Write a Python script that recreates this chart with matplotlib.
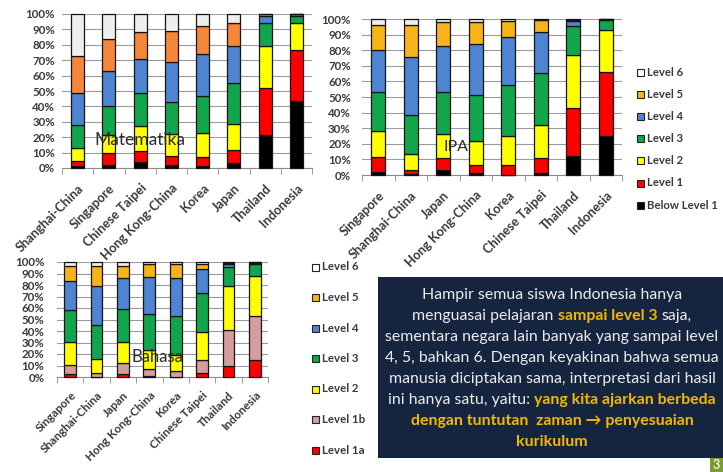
import matplotlib
matplotlib.use("Agg")
import matplotlib.pyplot as plt
from matplotlib.patches import Rectangle
import numpy as np

# ---------------------------------------------------------------- data
math_countries = ["Shanghai-China", "Singapore", "Chinese Taipei", "Hong Kong-China",
                  "Korea", "Japan", "Thailand", "Indonesia"]
math_below1 = [1.4, 2.0, 4.2, 2.0, 1.0, 3.0, 21.5, 43.3]
math_l1 = [3.0, 7.5, 7.0, 5.5, 6.0, 8.5, 30.5, 33.4]
math_l2 = [8.5, 12.0, 16.3, 14.5, 15.5, 17.0, 27.5, 17.3]
math_l3 = [15.0, 19.0, 21.0, 21.0, 24.5, 26.5, 14.5, 4.8]
math_l4 = [20.5, 22.8, 22.5, 26.0, 27.0, 24.0, 4.5, 1.0]
math_l5 = [24.5, 20.7, 17.5, 20.0, 18.0, 15.0, 1.2, 0.2]
math_l6 = [27.1, 16.0, 11.5, 11.0, 8.0, 6.0, 0.3, 0.0]

sci_countries = ["Singapore", "Shanghai-China", "Japan", "Hong Kong-China",
                 "Korea", "Chinese Taipei", "Thailand", "Indonesia"]
sci_below1 = [2.1, 0.4, 3.4, 1.2, 0.0, 1.6, 12.2, 25.0]
sci_l1 = [9.2, 2.6, 7.3, 5.0, 6.2, 9.4, 30.6, 41.0]
sci_l2 = [17.2, 10.5, 15.8, 15.8, 18.8, 21.0, 34.2, 27.0]
sci_l3 = [25.0, 25.0, 26.5, 29.0, 32.8, 33.3, 18.3, 6.5]
sci_l4 = [26.5, 37.1, 30.0, 33.0, 30.6, 26.2, 3.5, 0.5]
sci_l5 = [16.0, 20.4, 15.0, 14.0, 10.6, 7.7, 0.8, 0.0]
sci_l6 = [4.0, 4.0, 2.0, 2.0, 1.0, 0.8, 0.4, 0.0]

read_countries = ["Singapore", "Shanghai-China", "Japan", "Hong Kong-China",
                  "Korea", "Chinese Taipei", "Thailand", "Indonesia"]
read_l1a = [2.6, 0.3, 2.5, 0.8, 0.4, 3.5, 9.9, 15.1]
read_l1b = [8.1, 3.5, 9.7, 6.4, 4.5, 11.0, 31.3, 37.7]
read_l2 = [19.4, 11.9, 17.9, 16.6, 14.5, 24.3, 37.6, 35.3]
read_l3 = [28.5, 29.8, 29.0, 31.0, 33.9, 34.2, 16.6, 10.2]
read_l4 = [24.6, 33.3, 27.0, 31.9, 32.8, 20.9, 2.9, 1.2]
read_l5 = [13.0, 18.0, 10.7, 11.6, 12.2, 4.4, 0.9, 0.3]
read_l6 = [3.8, 3.2, 3.2, 1.7, 1.7, 1.7, 0.8, 0.2]

sci_legend = ["Level 6", "Level 5", "Level 4", "Level 3", "Level 2", "Level 1", "Below Level 1"]
read_legend = ["Level 6", "Level 5", "Level 4", "Level 3", "Level 2", "Level 1b", "Level 1a"]

# ---------------------------------------------------------------- styling
BLACK, RED, YELLOW, GREEN, BLUE = "#000000", "#FF0000", "#FFFF00", "#12A64C", "#4E84D2"
PALE = "#EEEEEE"
ORANGE = "#F5873A"
AMBER = "#F7B418"
PINK = "#D79C9C"

W, H = 723, 472
FONT = ["Lato", "DejaVu Sans"]
TXT = "#3a3a3a"

fig = plt.figure(figsize=(W / 100, H / 100), dpi=100)
fig.patch.set_facecolor("white")


def px_axes(x0, y0, x1, y1):
    return fig.add_axes([x0 / W, 1 - y1 / H, (x1 - x0) / W, (y1 - y0) / H])


def ftext(x, y, s, **kw):
    return fig.text(x / W, 1 - y / H, s, **kw)


def stacked(ax, cats, series, colors, width, ypad, xsize, xpad):
    x = np.arange(len(cats))
    bottom = np.zeros(len(cats))
    for vals, col in zip(series, colors):
        vals = np.asarray(vals, dtype=float)
        ax.bar(x, vals, width, bottom=bottom, color=col, edgecolor="#151515",
               linewidth=0.9, zorder=3, clip_on=False)
        bottom += vals
    ax.set_xlim(-0.5, len(cats) - 0.5)
    ax.set_ylim(0, 100)
    ticks = list(range(0, 101, 10))
    ax.set_yticks(ticks)
    ax.set_yticklabels([f"{t}%" for t in ticks])
    ax.yaxis.grid(True, color="#9c9c9c", lw=0.8, zorder=0)
    ax.set_axisbelow(True)
    for side in ("top", "right", "left"):
        ax.spines[side].set_visible(False)
    ax.spines["bottom"].set_color("#8c8c8c")
    ax.tick_params(axis="y", length=0, pad=ypad, labelsize=8.3, labelcolor=TXT)
    ax.set_xticks(x)
    ax.set_xticklabels(cats, rotation=45, ha="right", va="top",
                       rotation_mode="anchor", fontsize=xsize, color=TXT,
                       fontweight="bold", family=FONT)
    ax.tick_params(axis="x", which="major", length=0, pad=xpad)
    ax.set_xticks(np.arange(-0.5, len(cats)), minor=True)
    ax.tick_params(axis="x", which="minor", length=4, color="#8c8c8c")
    for lab in ax.get_yticklabels():
        lab.set_fontweight("bold")
        lab.set_family(FONT)
    ax.set_facecolor("none")


def legend_column(labels, colors, x, y0, step, size):
    for i, (lab, col) in enumerate(zip(labels, colors)):
        y = y0 + i * step
        fig.patches.append(Rectangle((x / W, 1 - (y + 3.5) / H), 7 / W, 7 / H,
                                     transform=fig.transFigure, facecolor=col,
                                     edgecolor="#222222", linewidth=0.8))
        ftext(x + 10, y, lab, ha="left", va="center", fontsize=size, color=TXT,
              fontweight="bold", family=FONT)


# ---------------------------------------------------------------- Matematika
ax1 = px_axes(62, 14, 312, 168)
stacked(ax1, math_countries,
        [math_below1, math_l1, math_l2, math_l3, math_l4, math_l5, math_l6],
        [BLACK, RED, YELLOW, GREEN, BLUE, ORANGE, PALE], 0.42, 5, 9.2, 10)
ftext(140, 140, "Matematika", ha="center", va="center", fontsize=12.5,
      color="#2a2a2a", family=FONT, zorder=10)

# ---------------------------------------------------------------- IPA
ax2 = px_axes(362, 19, 622, 175)
stacked(ax2, sci_countries,
        [sci_below1, sci_l1, sci_l2, sci_l3, sci_l4, sci_l5, sci_l6],
        [BLACK, RED, YELLOW, GREEN, BLUE, AMBER, PALE], 0.43, 8, 9.2, 10)
ftext(456, 147, "IPA", ha="center", va="center", fontsize=11.5,
      color="#2a2a2a", family=FONT, zorder=10)
legend_column(sci_legend, ["#FFFFFF", AMBER, BLUE, GREEN, YELLOW, RED, BLACK],
              637, 72, 22.2, 8.2)

# ---------------------------------------------------------------- Bahasa
ax3 = px_axes(57, 262, 268, 377)
stacked(ax3, read_countries,
        [read_l1a, read_l1b, read_l2, read_l3, read_l4, read_l5, read_l6],
        [RED, PINK, YELLOW, GREEN, BLUE, AMBER, PALE], 0.45, 9, 8.4, 9)
ftext(157, 357, "Bahasa", ha="center", va="center", fontsize=12,
      color="#2a2a2a", family=FONT, zorder=10)
legend_column(read_legend, ["#FFFFFF", AMBER, BLUE, GREEN, YELLOW, PINK, RED],
              312, 267, 30.5, 8.3)

# ---------------------------------------------------------------- message box
BOX = (378, 277, 723, 458)
fig.patches.append(Rectangle((BOX[0] / W, 1 - BOX[3] / H), (BOX[2] - BOX[0]) / W,
                             (BOX[3] - BOX[1]) / H, transform=fig.transFigure,
                             facecolor="#15243F", edgecolor="none", zorder=1))
fig.patches.append(Rectangle((710 / W, 0), 13 / W, 14 / H, transform=fig.transFigure,
                             facecolor="#7C9B38", edgecolor="none", zorder=2))
ftext(713, 465, "3", ha="left", va="center", fontsize=9, color="#F4F1C8",
      fontweight="bold", family=FONT, zorder=3)

WHITE_TXT = "#ECECEC"
HILITE = "#F2B705"
plain = dict(color=WHITE_TXT, fontweight="normal")
hot = dict(color=HILITE, fontweight="bold")

lines = [
    [("Hampir semua siswa Indonesia hanya", plain)],
    [("menguasai pelajaran ", plain), ("sampai level 3", hot), (" saja,", plain)],
    [("sementara negara lain banyak yang sampai level", plain)],
    [("4, 5, bahkan 6. Dengan keyakinan bahwa semua", plain)],
    [("manusia diciptakan sama, interpretasi dari hasil", plain)],
    [("ini hanya satu, yaitu: ", plain), ("yang kita ajarkan berbeda", hot)],
    [("dengan tuntutan  zaman \u2192 penyesuaian", hot)],
    [("kurikulum", hot)],
]

renderer = fig.canvas.get_renderer()


def width_px(s, size, style):
    a = fig.text(0, 0, "|" + s + "|", fontsize=size, family=FONT, **style)
    b = fig.text(0, 0, "||", fontsize=size, family=FONT, **style)
    w = a.get_window_extent(renderer).width - b.get_window_extent(renderer).width
    a.remove()
    b.remove()
    return w


# size the paragraph so the widest plain line spans the box
probe = 10.0
fs = probe * 331.0 / width_px(lines[2][0][0], probe, plain)

cx = 552
for i, segs in enumerate(lines):
    y = 295 + i * 21.0
    widths = [width_px(s, fs, st) for s, st in segs]
    x = cx - sum(widths) / 2
    for (s, st), w in zip(segs, widths):
        lead = len(s) - len(s.lstrip())
        off = width_px(s[:lead], fs, st) if lead else 0.0
        ftext(x + off, y, s.strip(), ha="left", va="center", fontsize=fs,
              family=FONT, zorder=5, **st)
        x += w

fig.savefig("out.png", dpi=100, facecolor="white")
